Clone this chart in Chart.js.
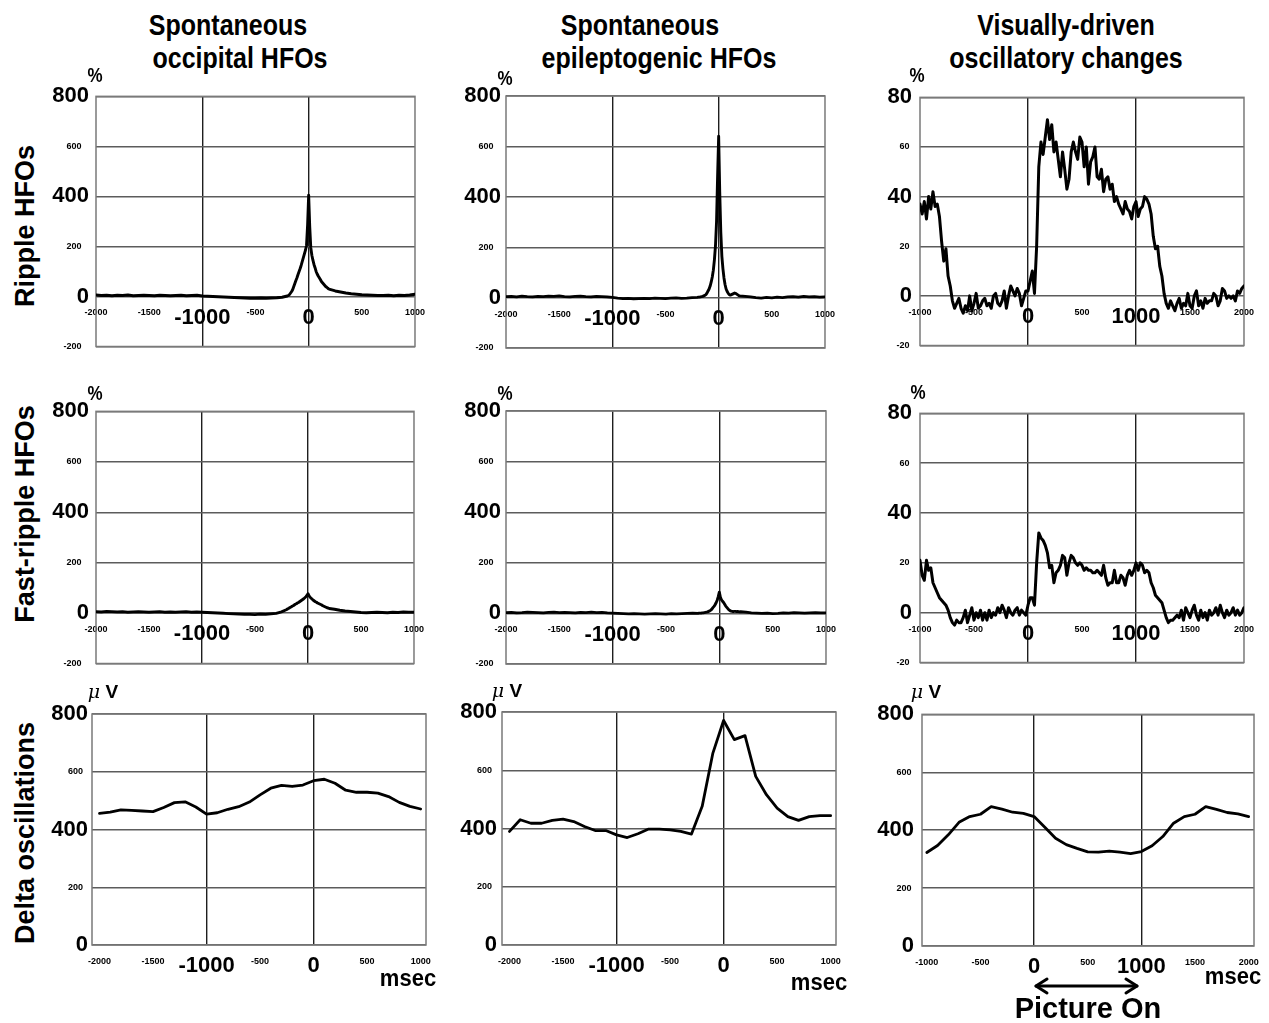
<!DOCTYPE html>
<html>
<head>
<meta charset="utf-8">
<script src="https://cdn.jsdelivr.net/npm/chart.js@4.4.1/dist/chart.umd.min.js"></script>
<style>
  body { margin: 0; background: #fff; }
  #wrap { position: relative; width: 1269px; height: 1023px; overflow: hidden;
          font-family: "Liberation Sans", Arial, sans-serif; font-weight: bold; color: #000; }
  canvas { position: absolute; }
  .t { position: absolute; white-space: nowrap; line-height: 1; }
  .rot { position: absolute; white-space: nowrap; line-height: 1; font-size: 27px;
         transform: translate(-50%, -50%) rotate(-90deg); }
</style>
</head>
<body>
<div id="wrap"></div>
<script>
// ---------------- DATA ----------------
// time axes (ms)
const timesSpont = [
  -2000,-1950,-1900,-1850,-1800,-1750,-1700,-1650,-1600,-1550,-1500,-1450,-1400,-1350,-1300,-1250,-1200,-1150,-1100,-1050,
  -1000,-950,-900,-850,-800,-750,-700,-650,-600,-550,-500,-450,-400,-350,-300,-250,
  -200,-190,-180,-170,-160,-150,-140,-130,-120,-110,-100,-90,-80,-70,-60,-50,-40,-30,-20,-10,
  0,10,20,30,40,50,60,70,80,90,100,110,120,130,140,150,160,170,180,190,200,
  250,300,350,400,450,500,550,600,650,700,750,800,850,900,950,1000
];
const timesVis = [
  -1000,-980,-960,-940,-920,-900,-880,-860,-840,-820,
  -800,-780,-760,-740,-720,-700,-680,-660,-640,-620,
  -600,-580,-560,-540,-520,-500,-480,-460,-440,-420,
  -400,-380,-360,-340,-320,-300,-280,-260,-240,-220,
  -200,-180,-160,-140,-120,-100,-80,-60,-40,-20,
  0,20,40,60,80,100,120,140,160,180,
  200,220,240,260,280,300,320,340,360,380,
  400,420,440,460,480,500,520,540,560,580,
  600,620,640,660,680,700,720,740,760,780,
  800,820,840,860,880,900,920,940,960,980,
  1000,1020,1040,1060,1080,1100,1120,1140,1160,1180,
  1200,1220,1240,1260,1280,1300,1320,1340,1360,1380,
  1400,1420,1440,1460,1480,1500,1520,1540,1560,1580,
  1600,1620,1640,1660,1680,1700,1720,1740,1760,1780,
  1800,1820,1840,1860,1880,1900,1920,1940,1960,1980,
  2000
];
const timesDeltaSpont = [-2000,-1900,-1800,-1700,-1600,-1500,-1400,-1300,-1200,-1100,-1000,-900,-800,-700,-600,-500,-400,-300,-200,-100,0,100,200,300,400,500,600,700,800,900,1000];
const timesDeltaVis = [-1000,-900,-800,-700,-600,-500,-400,-300,-200,-100,0,100,200,300,400,500,600,700,800,900,1000,1100,1200,1300,1400,1500,1600,1700,1800,1900,2000];

// Ripple HFOs (%)
const rippleOccipital = [
  6,4,5,3,5,4,6,3,4,5,4,3,5,4,3,4,5,3,4,5,
  2,1,0,-1,-2,-3,-4,-5,-6,-7,-7,-6,-7,-6,-5,-3,
  2,4,8,14,20,28,40,52,64,75,88,100,112,125,140,155,170,185,205,285,
  405,280,195,165,145,128,115,100,90,82,75,68,60,55,50,45,40,37,33,30,28,
  22,18,14,11,9,7,6,5,4,4,5,3,5,4,6,9
];
const rippleEpileptogenic = [
  4,5,3,6,4,3,5,4,6,5,7,4,3,5,6,4,3,5,4,3,
  1,-2,-4,-3,-5,-4,-3,-4,-2,-3,-4,-2,-1,-3,-2,0,
  1,2,2,3,4,5,7,9,12,18,26,34,46,62,82,109,150,205,300,480,
  640,420,260,165,115,78,52,34,24,17,12,10,12,14,16,18,17,14,11,8,7,
  5,3,0,-2,1,-1,2,0,3,4,2,5,3,4,2,3
];
const rippleVisual = [
  37,33,38,31,40,35,42,36,37,32,
  22,14,19,8,4,-2,-5,-3,-1,-5,
  -7,-4,-6,0,-6,-3,1,-5,-4,-2,
  -1,-4,-3,-5,0,1,-3,-4,-2,2,
  -5,0,4,2,0,3,1,-4,-1,2,
  2,6,10,1,20,52,62,57,64,71,
  63,69,58,62,55,48,58,51,43,47,
  58,62,58,55,64,62,52,60,45,54,
  56,60,48,47,51,42,47,48,43,45,
  38,40,37,35,33,38,35,34,31,36,
  38,32,35,36,40,39,37,33,24,19,
  20,12,8,1,-3,-5,-2,-4,-6,-3,
  -1,-5,-3,-4,1,-4,-5,0,2,-4,
  -2,-5,-1,-3,-2,-2,1,0,-4,-2,
  3,2,-1,0,-1,0,-2,2,1,3,
  4
];

// Fast-ripple HFOs (%)
const fastOccipital = [
  5,4,6,5,4,5,3,4,5,4,3,4,5,3,4,3,4,5,3,4,
  3,2,1,0,-1,-2,-3,-4,-5,-5,-6,-4,-5,-3,-1,5,
  14,17,19,22,24,27,29,32,35,37,40,42,45,48,51,54,57,61,65,70,
  77,68,63,59,55,51,48,45,43,40,38,36,34,32,29,27,25,23,21,20,18,
  15,11,8,6,4,2,1,2,3,2,1,3,2,4,3,3
];
const fastEpileptogenic = [
  3,4,2,3,5,4,3,2,4,5,3,4,3,2,4,3,5,3,4,2,
  1,0,-1,-2,-1,-2,-3,-2,-1,-2,-3,-1,-2,-1,0,1,
  0,1,1,1,2,2,3,4,5,6,8,10,13,17,23,28,34,42,52,66,
  84,64,54,48,43,36,29,24,19,14,11,9,8,7,8,8,7,8,7,6,7,
  5,2,1,0,1,-1,0,2,1,3,2,1,2,3,2,2
];
const fastVisual = [
  21,15,13,21,17,18,12,10,8,6,
  5,4,3,1,-2,-4,-5,-3,-4,-4,
  -2,1,-4,-1,2,-3,0,-2,1,-3,
  0,-3,1,-2,0,-1,2,0,3,1,
  -2,2,0,-1,1,2,-1,1,0,-1,
  3,6,6,3,20,32,30,29,27,24,
  18,19,12,16,17,19,23,22,15,20,
  23,22,20,19,20,19,17,18,17,17,
  16,16,17,16,15,19,14,11,12,12,
  17,12,12,15,14,11,15,17,15,17,
  20,17,20,19,16,17,16,12,10,7,
  6,5,4,1,-2,-4,-3,-3,-2,-1,
  -2,1,-3,2,0,-2,1,3,-1,-3,
  1,-2,0,-3,1,-1,0,2,-1,3,
  0,-2,1,-1,0,2,-1,1,-1,0,
  2
];

// Delta oscillations (µV)
const deltaOccipital = [456,460,468,466,464,462,476,493,496,478,453,458,470,479,495,520,543,553,549,554,569,574,560,536,529,529,526,514,494,480,471];
const deltaEpileptogenic = [390,430,418,418,428,432,424,407,393,393,378,369,382,398,398,395,390,381,476,659,771,705,719,579,516,470,441,428,441,444,444];
const deltaVisual = [323,347,384,427,447,455,481,473,462,458,447,410,372,350,337,325,324,328,324,319,326,346,378,424,447,455,481,472,461,456,447];

// tick values
const xTicksSpont = [-2000,-1500,-1000,-500,0,500,1000];
const xTicksVis = [-1000,-500,0,500,1000,1500,2000];
const xBigSpont = [-1000,0];
const xBigVis = [0,1000];
const yBigPct = [0,400,800];
const yBigPctVis = [0,40,80];
const yBigUV = [0,400,800];

// ---------------- LAYOUT / STYLE ----------------
const FAM = '"Liberation Sans", Arial, sans-serif';
const BIG = {family: FAM, weight: 'bold', size: 22, lineHeight: 0.85};
const SMALL = {family: FAM, weight: 'bold', size: 9, lineHeight: 1};

const panels = [
  {frame:[96,96,419,348],  xMin:-2000,xMax:1000, xTicks:xTicksSpont, xBig:xBigSpont, yMin:-200,yMax:800,yStep:200,yBig:yBigPct, times:timesSpont, vals:rippleOccipital, yPad:7, sp:3, pb:10, lw:2.9},
  {frame:[506,96,829,348], xMin:-2000,xMax:1000, xTicks:xTicksSpont, xBig:xBigSpont, yMin:-200,yMax:800,yStep:200,yBig:yBigPct, times:timesSpont, vals:rippleEpileptogenic, yPad:5, sp:3, pb:10, lw:2.9},
  {frame:[920,96,1248,348],xMin:-1000,xMax:2000, xTicks:xTicksVis, xBig:xBigVis, yMin:-20,yMax:80,yStep:20,yBig:yBigPctVis, times:timesVis, vals:rippleVisual, yPad:8, sp:1, pb:10, lw:3},
  {frame:[96,411,418,665], xMin:-2000,xMax:1000, xTicks:xTicksSpont, xBig:xBigSpont, yMin:-200,yMax:800,yStep:200,yBig:yBigPct, times:timesSpont, vals:fastOccipital, yPad:7, sp:3, pb:10, lw:2.9},
  {frame:[506,411,830,664],xMin:-2000,xMax:1000, xTicks:xTicksSpont, xBig:xBigSpont, yMin:-200,yMax:800,yStep:200,yBig:yBigPct, times:timesSpont, vals:fastEpileptogenic, yPad:5, sp:3, pb:10, lw:2.9},
  {frame:[920,412,1248,665],xMin:-1000,xMax:2000, xTicks:xTicksVis, xBig:xBigVis, yMin:-20,yMax:80,yStep:20,yBig:yBigPctVis, times:timesVis, vals:fastVisual, yPad:8, sp:1, pb:10, lw:3},
  {frame:[92,714,426,945], xMin:-2070,xMax:1050, xTicks:xTicksSpont, xBig:xBigSpont, yMin:0,yMax:800,yStep:200,yBig:yBigUV, times:timesDeltaSpont, vals:deltaOccipital, yPad:4, sp:2, pb:44, lw:2.8},
  {frame:[502,712,836,945],xMin:-2070,xMax:1050, xTicks:xTicksSpont, xBig:xBigSpont, yMin:0,yMax:800,yStep:200,yBig:yBigUV, times:timesDeltaSpont, vals:deltaEpileptogenic, yPad:5, sp:2, pb:44, lw:2.8},
  {frame:[922,713,1254,946],xMin:-1045,xMax:2050, xTicks:xTicksVis, xBig:xBigVis, yMin:0,yMax:800,yStep:200,yBig:yBigUV, times:timesDeltaVis, vals:deltaVisual, yPad:8, sp:1, pb:44, lw:2.8}
];

const wrap = document.getElementById('wrap');

const framePlugin = {
  id: 'frame',
  beforeDatasetsDraw(chart) {
    const a = chart.chartArea, ctx = chart.ctx;
    ctx.save();
    ctx.strokeStyle = '#7a7a7a';
    ctx.lineWidth = 1.5;
    ctx.strokeRect(a.left, a.top, a.right - a.left, a.bottom - a.top);
    ctx.restore();
  }
};

const YW = 50, PT = 16, PR = 18;

function makeChart(p) {
  const [L, T, R, B] = p.frame;
  const w = (R - L) + YW + PR, h = (B - T) + PT + p.pb;
  const c = document.createElement('canvas');
  c.width = w; c.height = h;
  c.style.left = (L - YW) + 'px';
  c.style.top = (T - PT) + 'px';
  c.style.width = w + 'px'; c.style.height = h + 'px';
  wrap.appendChild(c);
  new Chart(c, {
    type: 'line',
    data: { datasets: [{
      data: p.times.map((t, i) => ({x: t, y: p.vals[i]})),
      borderColor: '#000', borderWidth: p.lw, pointRadius: 0, tension: 0,
      fill: false, borderJoinStyle: 'round', borderCapStyle: 'round'
    }]},
    options: {
      responsive: false, animation: false, events: [],
      layout: { padding: { left: 0, top: PT, right: PR, bottom: p.pb } },
      plugins: { legend: {display: false}, tooltip: {enabled: false} },
      scales: {
        x: {
          type: 'linear', position: {y: 0}, min: p.xMin, max: p.xMax,
          afterBuildTicks: s => { s.ticks = p.xTicks.map(v => ({value: v})); },
          grid: { drawTicks: false, lineWidth: 1.4,
                  color: ctx => (ctx.tick && p.xBig.includes(ctx.tick.value)) ? '#1e1e1e' : 'rgba(0,0,0,0)' },
          border: { display: false },
          ticks: { autoSkip: false, maxRotation: 0, minRotation: 0, padding: 12, color: '#000',
                   callback: v => String(v),
                   font: ctx => (ctx.tick && p.xBig.includes(ctx.tick.value)) ? BIG : SMALL }
        },
        y: {
          type: 'linear', min: p.yMin, max: p.yMax,
          afterFit: s => { s.width = YW; },
          grid: { drawTicks: false, color: '#5c5c5c', lineWidth: 1.4 },
          border: { display: false },
          ticks: { stepSize: p.yStep, autoSkip: false, padding: p.yPad, color: '#000',
                   callback: v => p.yBig.includes(v) ? String(v) : String(v) + ' '.repeat(p.sp),
                   font: ctx => (ctx.tick && p.yBig.includes(ctx.tick.value)) ? BIG : SMALL }
        }
      }
    },
    plugins: [framePlugin]
  });
}
panels.forEach(makeChart);

// ---------------- TEXT ----------------
function txt(str, cx, baseline, size, sy) {
  const d = document.createElement('div');
  d.className = 't';
  d.innerHTML = str;
  d.style.fontSize = size + 'px';
  d.style.left = cx + 'px';
  const b = 0.8465 * size;
  d.style.top = (baseline - b) + 'px';
  d.style.transformOrigin = '50% ' + b + 'px';
  d.style.transform = 'translateX(-50%)' + (sy ? ' scaleY(' + sy + ')' : '');
  wrap.appendChild(d);
}
function rot(str, cx, cy) {
  const d = document.createElement('div');
  d.className = 'rot';
  d.textContent = str;
  d.style.left = cx + 'px'; d.style.top = cy + 'px';
  wrap.appendChild(d);
}

// column titles
txt('Spontaneous', 228, 35, 25, 1.2);
txt('occipital HFOs', 240, 68, 25, 1.2);
txt('Spontaneous', 640, 35, 25, 1.2);
txt('epileptogenic HFOs', 659, 68, 25, 1.2);
txt('Visually-driven', 1066, 35, 25, 1.2);
txt('oscillatory changes', 1066, 68, 25, 1.2);

// row labels
rot('Ripple HFOs', 25, 226);
rot('Fast-ripple HFOs', 25, 514);
rot('Delta oscillations', 25, 833);

// units
txt('%', 95, 82, 17, 1.15);
txt('%', 505, 85, 17, 1.15);
txt('%', 917, 82, 17, 1.15);
txt('%', 95, 400, 17, 1.15);
txt('%', 505, 400, 17, 1.15);
txt('%', 918, 399, 17, 1.15);
const uv = '<span style="font-style:italic;font-weight:normal;font-family:\'DejaVu Serif\',serif">\u03BC</span> V';
txt(uv, 103, 698, 19);
txt(uv, 507, 697, 19);
txt(uv, 926, 698, 19);

// msec
txt('msec', 408, 987, 22, 1.1);
txt('msec', 819, 991, 22, 1.1);
txt('msec', 1233, 985, 22, 1.1);

// Picture On
txt('Picture On', 1088, 1019, 29);
const svgNS = 'http://www.w3.org/2000/svg';
const svg = document.createElementNS(svgNS, 'svg');
svg.setAttribute('width', '1269'); svg.setAttribute('height', '1023');
svg.style.position = 'absolute'; svg.style.left = '0'; svg.style.top = '0';
svg.innerHTML = '<g stroke="#000" stroke-width="3" fill="none" stroke-linecap="round" stroke-linejoin="round">' +
  '<line x1="1036" y1="986" x2="1137" y2="986"/>' +
  '<polyline points="1047,979 1036,986 1047,993"/>' +
  '<polyline points="1126,979 1137,986 1126,993"/></g>';
wrap.appendChild(svg);
</script>
</body>
</html>
